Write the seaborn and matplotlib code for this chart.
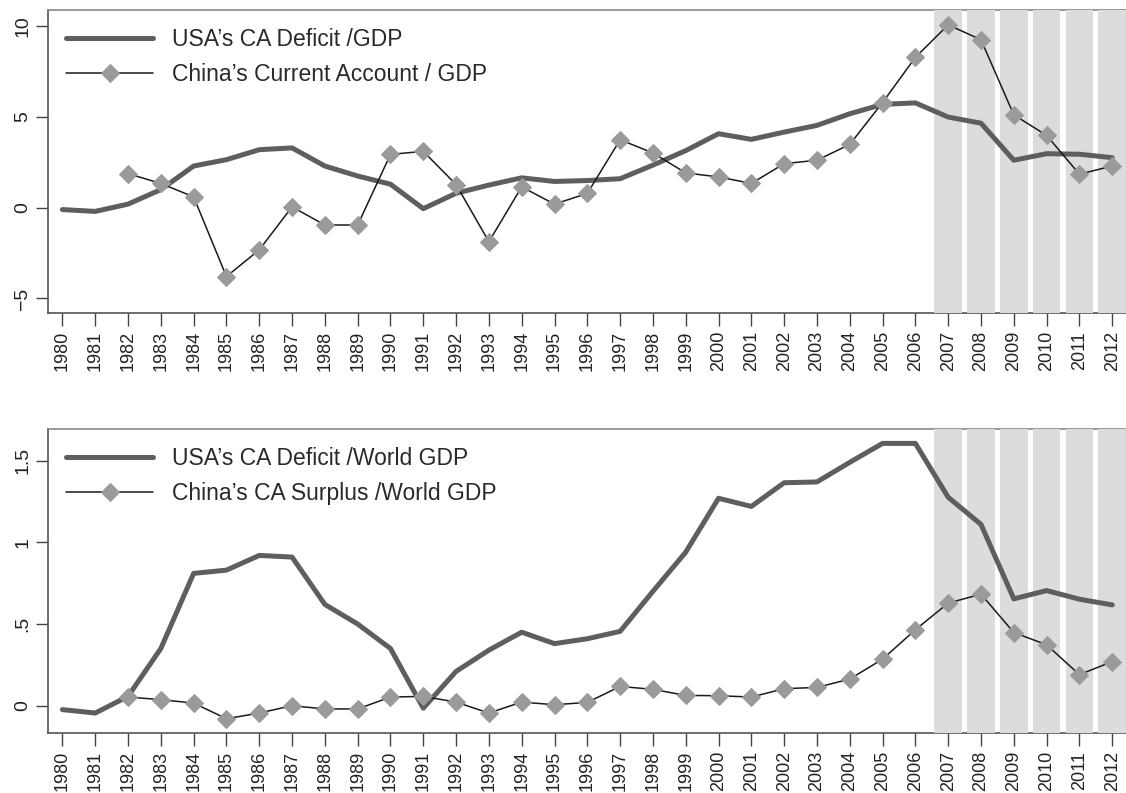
import matplotlib
matplotlib.use('Agg')
import matplotlib.pyplot as plt
import seaborn as sns

# Data
years = list(range(1980, 2013))
china_years = list(range(1982, 2013))
crisis_years = [2007, 2008, 2009, 2010, 2011, 2012]

usa_gdp = [-0.1, -0.2, 0.2, 1.0, 2.3, 2.65, 3.2, 3.3, 2.3, 1.75, 1.3, -0.05,
           0.8, 1.25, 1.65, 1.45, 1.5, 1.6, 2.35, 3.15, 4.08, 3.77, 4.17,
           4.54, 5.18, 5.7, 5.78, 5.0, 4.66, 2.62, 2.98, 2.95, 2.76]
china_gdp = [1.88, 1.34, 0.6, -3.79, -2.32, 0.05, -0.95, -0.95, 2.94, 3.11,
             1.28, -1.87, 1.15, 0.2, 0.79, 3.75, 3.02, 1.92, 1.7, 1.34, 2.43,
             2.62, 3.49, 5.8, 8.29, 10.08, 9.26, 5.12, 3.99, 1.85, 2.3]

usa_world = [-0.024, -0.045, 0.057, 0.35, 0.81, 0.83, 0.92, 0.91, 0.62, 0.50,
             0.35, -0.015, 0.21, 0.34, 0.45, 0.38, 0.41, 0.455, 0.70, 0.94,
             1.27, 1.22, 1.365, 1.37, 1.49, 1.606, 1.606, 1.276, 1.11, 0.654,
             0.705, 0.652, 0.617]
china_world = [0.053, 0.037, 0.016, -0.08, -0.045, 0.0, -0.02, -0.02, 0.053,
               0.057, 0.022, -0.045, 0.022, 0.006, 0.02, 0.118, 0.10, 0.063,
               0.061, 0.053, 0.104, 0.112, 0.163, 0.285, 0.465, 0.628, 0.683,
               0.448, 0.373, 0.19, 0.27]

top_labels = ["USA\u2019s CA Deficit /GDP", "China\u2019s Current Account / GDP"]
bottom_labels = ["USA\u2019s CA Deficit /World GDP", "China\u2019s CA Surplus /World GDP"]
top_yticks = [-5, 0, 5, 10]
top_yticklabels = ["\u22125", "0", "5", "10"]
bottom_yticks = [0, 0.5, 1, 1.5]
bottom_yticklabels = ["0", ".5", "1", "1.5"]

sns.set_theme(style='ticks')
plt.rcParams['font.family'] = ['Liberation Sans', 'DejaVu Sans']

fig = plt.figure(figsize=(11.26, 7.93), dpi=100)
ax1 = fig.add_axes([0.0426, 0.6053, 0.9574, 0.3821])
ax2 = fig.add_axes([0.0426, 0.0757, 0.9574, 0.3833])


def draw_panel(ax, usa, china, labels, ylim, yticks, yticklabels):
    ax.set_xlim(1979.56, 2012.42)
    ax.set_ylim(*ylim)
    # shaded crisis years
    ax.bar(crisis_years, ylim[1] - ylim[0], bottom=ylim[0], width=0.84,
           color='#dcdcde', linewidth=0, zorder=2.6)
    sns.lineplot(x=years, y=usa, ax=ax, color='#5e5e5e', linewidth=3.6,
                 label=labels[0], zorder=4)
    sns.lineplot(x=china_years, y=china, ax=ax, color='#1a1a1a', linewidth=1.1,
                 marker='D', markersize=9.5, markerfacecolor='#999a9c',
                 markeredgecolor='#999a9c', label=labels[1], zorder=5)
    ax.set_xlabel('')
    ax.set_ylabel('')
    ax.set_xticks(years)
    ax.set_xticklabels([str(y) for y in years], rotation=90)
    ax.set_yticks(yticks)
    ax.set_yticklabels(yticklabels, rotation=90, va='center')
    ax.tick_params(axis='both', direction='out', length=9, width=1,
                   color='#444444', labelsize=13, labelcolor='#222222')
    ax.tick_params(axis='x', pad=4)
    ax.tick_params(axis='y', pad=3, labelsize=14)
    for side in ['left', 'bottom']:
        ax.spines[side].set_color('#555555')
        ax.spines[side].set_linewidth(1.2)
    ax.spines['top'].set_color('#888888')
    ax.spines['top'].set_linewidth(1.2)
    ax.spines['right'].set_visible(False)
    leg = ax.legend(loc='upper left', frameon=False, fontsize=16.5, handlelength=3.8,
                    handletextpad=0.8, labelspacing=0.5, borderaxespad=0.4)
    for t in leg.get_texts():
        t.set_color('#2a2a2a')


draw_panel(ax1, usa_gdp, china_gdp, top_labels, (-5.8, 10.9),
           top_yticks, top_yticklabels)
draw_panel(ax2, usa_world, china_world, bottom_labels, (-0.167, 1.694),
           bottom_yticks, bottom_yticklabels)

fig.savefig('out.png', dpi=100)
